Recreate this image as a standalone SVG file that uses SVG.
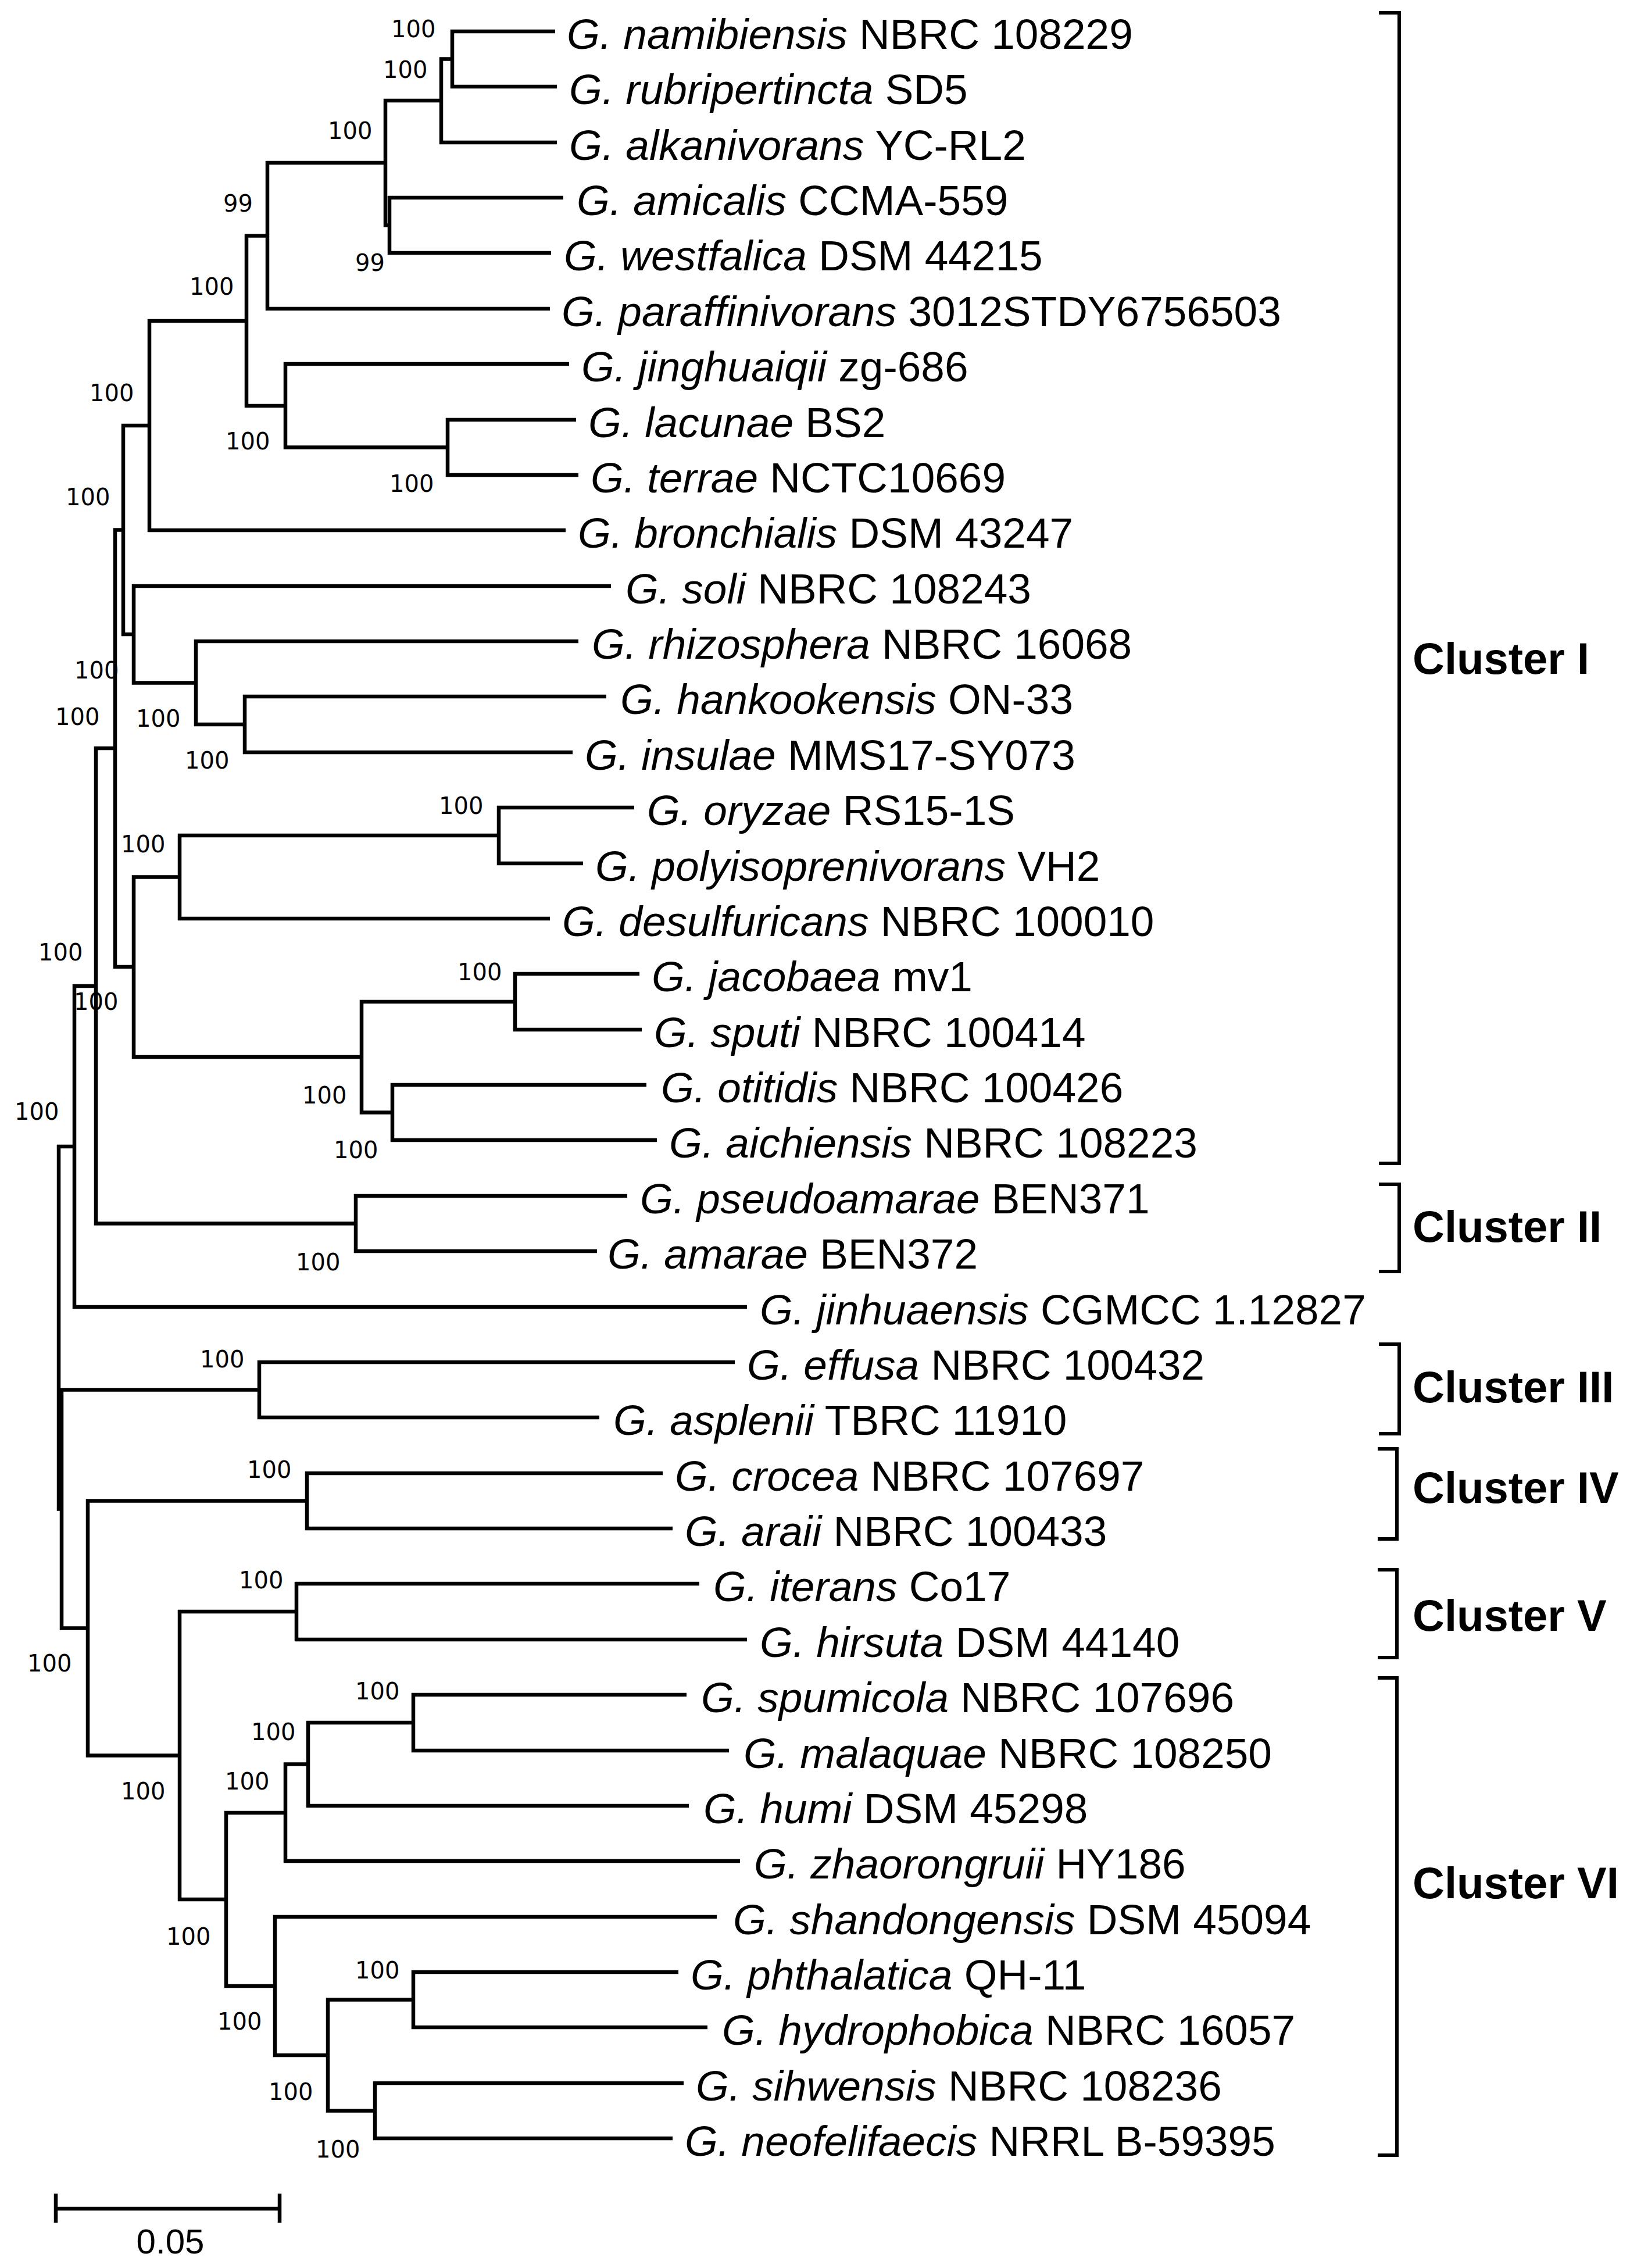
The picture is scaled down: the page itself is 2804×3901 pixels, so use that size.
<svg xmlns="http://www.w3.org/2000/svg" width="2804" height="3901" viewBox="0 0 2804 3901">
<style>
.br{fill:none;stroke:#000;stroke-width:6.5;stroke-linejoin:miter;stroke-linecap:butt}
.bk{fill:none;stroke:#000;stroke-width:6}
.lf{font-family:"Liberation Sans",Arial,sans-serif;font-size:73px;fill:#000}
.i{font-style:italic}
.bs{font-family:"DejaVu Sans",sans-serif;font-size:40px;fill:#000}
.cl{font-family:"Liberation Sans",Arial,sans-serif;font-size:76px;font-weight:bold;fill:#000}
.sc{font-family:"Liberation Sans",Arial,sans-serif;font-size:60px;fill:#000}
</style>
<rect width="2804" height="3901" fill="#fff"/>
<g id="connectors">
<path class="br" d="M955 54H778V149H958"/>
<path class="br" d="M778 101.5H759V245H958"/>
<path class="br" d="M969 340H670V435H948"/>
<path class="br" d="M759 173H663V387.5H670"/>
<path class="br" d="M663 280H460V531H946"/>
<path class="br" d="M991 722H770V817H995"/>
<path class="br" d="M979 626H491V769.5H770"/>
<path class="br" d="M460 405.5H424V698H491"/>
<path class="br" d="M424 552H257V912H973"/>
<path class="br" d="M1043 1198H421V1294H985"/>
<path class="br" d="M995 1103H337V1246H421"/>
<path class="br" d="M1051 1008H230V1174.5H337"/>
<path class="br" d="M257 732H212V1091H230"/>
<path class="br" d="M1091 1389H858V1485H1003"/>
<path class="br" d="M858 1437H309V1580H946"/>
<path class="br" d="M1100 1675H886V1771H1104"/>
<path class="br" d="M1112 1866H675V1961H1130"/>
<path class="br" d="M886 1723H622V1913.5H675"/>
<path class="br" d="M309 1508.5H230V1818H622"/>
<path class="br" d="M212 911.5H198V1663H230"/>
<path class="br" d="M1079 2057H612V2152H1027"/>
<path class="br" d="M198 1287H165V2104.5H612"/>
<path class="br" d="M165 1696H128V2248H1285"/>
<path class="br" d="M1264 2343H446V2438H1031"/>
<path class="br" d="M1140 2534H528V2629H1157"/>
<path class="br" d="M1203 2724H510V2820H1285"/>
<path class="br" d="M1181 2915H711V3011H1254"/>
<path class="br" d="M711 2963H530V3106H1185"/>
<path class="br" d="M530 3034.5H491V3201H1273"/>
<path class="br" d="M1167 3392H711V3487H1217"/>
<path class="br" d="M1176 3583H645V3678H1157"/>
<path class="br" d="M711 3439.5H564V3630.5H645"/>
<path class="br" d="M1233 3297H473V3535H564"/>
<path class="br" d="M491 3118H389V3416H473"/>
<path class="br" d="M510 2772H309V3267H389"/>
<path class="br" d="M528 2581.5H151V3019.5H309"/>
<path class="br" d="M446 2390.5H106V2800.5H151"/>
<path class="br" d="M128 1972H101V2595.5H106"/>
</g>
<g id="leaves">
<g id="n0"><text class="lf" x="975" y="84"><tspan class="i">G. namibiensis</tspan> NBRC 108229</text></g>
<g id="n1"><text class="lf" x="979" y="179"><tspan class="i">G. rubripertincta</tspan> SD5</text></g>
<g id="n2"><text class="lf" x="979" y="275"><tspan class="i">G. alkanivorans</tspan> YC-RL2</text></g>
<g id="n3"><text class="lf" x="992" y="370"><tspan class="i">G. amicalis</tspan> CCMA-559</text></g>
<g id="n4"><text class="lf" x="970" y="465"><tspan class="i">G. westfalica</tspan> DSM 44215</text></g>
<g id="n5"><text class="lf" x="966" y="561"><tspan class="i">G. paraffinivorans</tspan> 3012STDY6756503</text></g>
<g id="n6"><text class="lf" x="1000" y="656"><tspan class="i">G. jinghuaiqii</tspan> zg-686</text></g>
<g id="n7"><text class="lf" x="1012" y="752"><tspan class="i">G. lacunae</tspan> BS2</text></g>
<g id="n8"><text class="lf" x="1016" y="847"><tspan class="i">G. terrae</tspan> NCTC10669</text></g>
<g id="n9"><text class="lf" x="994" y="942"><tspan class="i">G. bronchialis</tspan> DSM 43247</text></g>
<g id="n10"><text class="lf" x="1076" y="1038"><tspan class="i">G. soli</tspan> NBRC 108243</text></g>
<g id="n11"><text class="lf" x="1018" y="1133"><tspan class="i">G. rhizosphera</tspan> NBRC 16068</text></g>
<g id="n12"><text class="lf" x="1067" y="1228"><tspan class="i">G. hankookensis</tspan> ON-33</text></g>
<g id="n13"><text class="lf" x="1006" y="1324"><tspan class="i">G. insulae</tspan> MMS17-SY073</text></g>
<g id="n14"><text class="lf" x="1113" y="1419"><tspan class="i">G. oryzae</tspan> RS15-1S</text></g>
<g id="n15"><text class="lf" x="1024" y="1515"><tspan class="i">G. polyisoprenivorans</tspan> VH2</text></g>
<g id="n16"><text class="lf" x="967" y="1610"><tspan class="i">G. desulfuricans</tspan> NBRC 100010</text></g>
<g id="n17"><text class="lf" x="1121" y="1705"><tspan class="i">G. jacobaea</tspan> mv1</text></g>
<g id="n18"><text class="lf" x="1125" y="1801"><tspan class="i">G. sputi</tspan> NBRC 100414</text></g>
<g id="n19"><text class="lf" x="1137" y="1896"><tspan class="i">G. otitidis</tspan> NBRC 100426</text></g>
<g id="n20"><text class="lf" x="1151" y="1991"><tspan class="i">G. aichiensis</tspan> NBRC 108223</text></g>
<g id="n21"><text class="lf" x="1101" y="2087"><tspan class="i">G. pseudoamarae</tspan> BEN371</text></g>
<g id="n22"><text class="lf" x="1045" y="2182"><tspan class="i">G. amarae</tspan> BEN372</text></g>
<g id="n23"><text class="lf" x="1307" y="2278"><tspan class="i">G. jinhuaensis</tspan> CGMCC 1.12827</text></g>
<g id="n24"><text class="lf" x="1285" y="2373"><tspan class="i">G. effusa</tspan> NBRC 100432</text></g>
<g id="n25"><text class="lf" x="1055" y="2468"><tspan class="i">G. asplenii</tspan> TBRC 11910</text></g>
<g id="n26"><text class="lf" x="1161" y="2564"><tspan class="i">G. crocea</tspan> NBRC 107697</text></g>
<g id="n27"><text class="lf" x="1178" y="2659"><tspan class="i">G. araii</tspan> NBRC 100433</text></g>
<g id="n28"><text class="lf" x="1227" y="2754"><tspan class="i">G. iterans</tspan> Co17</text></g>
<g id="n29"><text class="lf" x="1307" y="2850"><tspan class="i">G. hirsuta</tspan> DSM 44140</text></g>
<g id="n30"><text class="lf" x="1206" y="2945"><tspan class="i">G. spumicola</tspan> NBRC 107696</text></g>
<g id="n31"><text class="lf" x="1279" y="3041"><tspan class="i">G. malaquae</tspan> NBRC 108250</text></g>
<g id="n32"><text class="lf" x="1210" y="3136"><tspan class="i">G. humi</tspan> DSM 45298</text></g>
<g id="n33"><text class="lf" x="1297" y="3231"><tspan class="i">G. zhaorongruii</tspan> HY186</text></g>
<g id="n34"><text class="lf" x="1261" y="3327"><tspan class="i">G. shandongensis</tspan> DSM 45094</text></g>
<g id="n35"><text class="lf" x="1188" y="3422"><tspan class="i">G. phthalatica</tspan> QH-11</text></g>
<g id="n36"><text class="lf" x="1242" y="3517"><tspan class="i">G. hydrophobica</tspan> NBRC 16057</text></g>
<g id="n37"><text class="lf" x="1197" y="3613"><tspan class="i">G. sihwensis</tspan> NBRC 108236</text></g>
<g id="n38"><text class="lf" x="1178" y="3708"><tspan class="i">G. neofelifaecis</tspan> NRRL B-59395</text></g>
</g>
<g id="bootstrap">
<text class="bs" x="673" y="64">100</text>
<text class="bs" x="659" y="134">100</text>
<text class="bs" x="564" y="239">100</text>
<text class="bs" x="384" y="364">99</text>
<text class="bs" x="611" y="466">99</text>
<text class="bs" x="326" y="507">100</text>
<text class="bs" x="154" y="690">100</text>
<text class="bs" x="388" y="773">100</text>
<text class="bs" x="670" y="846">100</text>
<text class="bs" x="113" y="869">100</text>
<text class="bs" x="128" y="1167">100</text>
<text class="bs" x="95" y="1247">100</text>
<text class="bs" x="234" y="1250">100</text>
<text class="bs" x="318" y="1322">100</text>
<text class="bs" x="755" y="1400">100</text>
<text class="bs" x="208" y="1466">100</text>
<text class="bs" x="66" y="1652">100</text>
<text class="bs" x="127" y="1737">100</text>
<text class="bs" x="787" y="1686">100</text>
<text class="bs" x="520" y="1898">100</text>
<text class="bs" x="25" y="1926">100</text>
<text class="bs" x="574" y="1992">100</text>
<text class="bs" x="509" y="2185">100</text>
<text class="bs" x="344" y="2352">100</text>
<text class="bs" x="425" y="2542">100</text>
<text class="bs" x="411" y="2732">100</text>
<text class="bs" x="47" y="2875">100</text>
<text class="bs" x="611" y="2923">100</text>
<text class="bs" x="432" y="2993">100</text>
<text class="bs" x="208" y="3095">100</text>
<text class="bs" x="387" y="3078">100</text>
<text class="bs" x="286" y="3345">100</text>
<text class="bs" x="611" y="3403">100</text>
<text class="bs" x="374" y="3491">100</text>
<text class="bs" x="462" y="3612">100</text>
<text class="bs" x="543" y="3711">100</text>
</g>
<g id="cluster-I"><path class="bk" d="M2372 22H2407V2001H2372"/><text class="cl" x="2430" y="1159">Cluster I</text></g>
<g id="cluster-II"><path class="bk" d="M2372 2037H2407V2187H2372"/><text class="cl" x="2430" y="2136">Cluster II</text></g>
<g id="cluster-III"><path class="bk" d="M2372 2312H2407V2466H2372"/><text class="cl" x="2430" y="2412">Cluster III</text></g>
<g id="cluster-IV"><path class="bk" d="M2370 2492H2403V2647H2370"/><text class="cl" x="2430" y="2585">Cluster IV</text></g>
<g id="cluster-V"><path class="bk" d="M2370 2700H2403V2851H2370"/><text class="cl" x="2430" y="2805">Cluster V</text></g>
<g id="cluster-VI"><path class="bk" d="M2370 2886H2403V3707H2370"/><text class="cl" x="2430" y="3265">Cluster VI</text></g>
<g id="scale-bar">
<path class="br" d="M96 3799H481M96 3773V3823M481 3773V3823"/>
<text class="sc" x="293" y="3876" text-anchor="middle">0.05</text>
</g>
</svg>
